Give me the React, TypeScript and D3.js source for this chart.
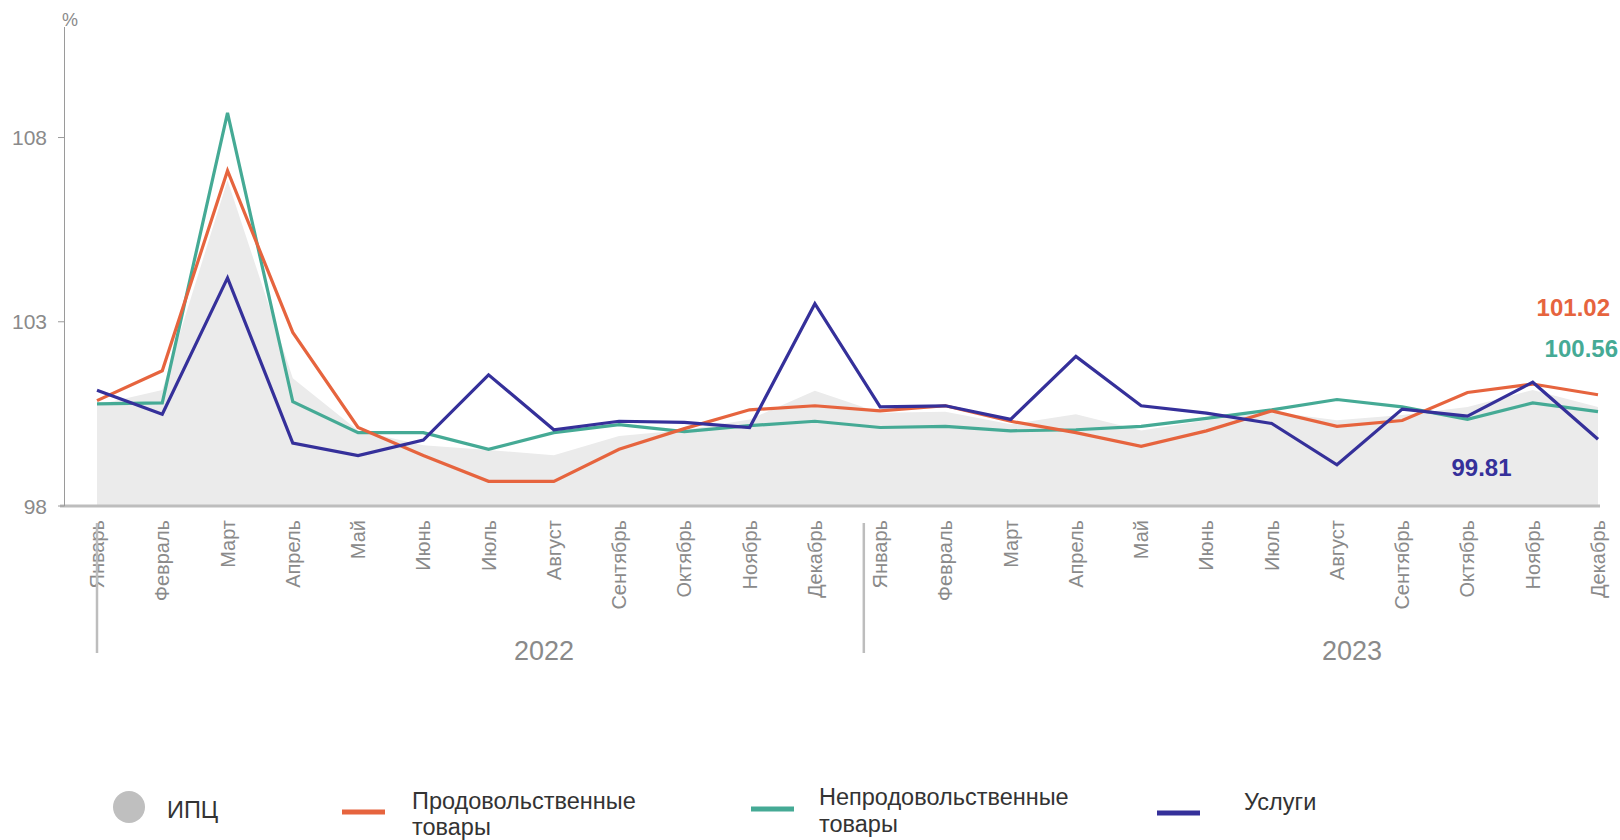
import React from "react";
import * as d3 from "d3";

const months = ["Январь","Февраль","Март","Апрель","Май","Июнь","Июль","Август","Сентябрь","Октябрь","Ноябрь","Декабрь",
  "Январь","Февраль","Март","Апрель","Май","Июнь","Июль","Август","Сентябрь","Октябрь","Ноябрь","Декабрь"];
const years = ["2022", "2023"];

const cpi = [100.74,101.15,106.84,101.47,100.05,99.65,99.52,99.38,99.90,100.06,100.35,101.13,
  100.53,100.56,100.22,100.49,100.05,100.33,100.56,100.33,100.47,100.69,101.15,100.69];
const food = [100.86,101.67,107.10,102.71,100.13,99.37,98.67,98.67,99.54,100.10,100.61,100.72,
  100.58,100.72,100.30,99.99,99.62,100.04,100.58,100.16,100.32,101.08,101.31,101.02];
const nonFood = [100.77,100.80,108.67,100.83,99.99,99.99,99.54,99.99,100.21,100.02,100.18,100.30,
  100.13,100.16,100.04,100.07,100.16,100.38,100.61,100.89,100.69,100.35,100.80,100.56];
const services = [101.14,100.49,104.19,99.71,99.37,99.79,101.56,100.07,100.30,100.27,100.13,103.49,
  100.69,100.72,100.35,102.06,100.72,100.52,100.24,99.12,100.63,100.44,101.36,99.81];
const yTicks = [98, 103, 108];

const C_FOOD = "#E6643E";
const C_NON = "#45AA95";
const C_SERV = "#35309A";
const C_CPI = "#EBEBEB";
const FONT = "'Liberation Sans', Arial, sans-serif";

export default function App() {
  const W = 1620, H = 840;
  const x = d3.scaleLinear().domain([0, 23]).range([97, 1598]);
  const y = d3.scaleLinear().domain([98, 111]).range([506, 27]);
  const idx = d3.range(24);
  const line = d3.line<number>().x((_, i) => x(i)).y((d) => y(d));
  const area = d3.area<number>().x((_, i) => x(i)).y0(y(98)).y1((d) => y(d));
  const step = x(1) - x(0);

  const series = [
    { data: nonFood, color: C_NON },
    { data: food, color: C_FOOD },
    { data: services, color: C_SERV },
  ];

  const last = 23;
  return (
    <svg width={W} height={H} style={{ display: "block", position: "absolute", left: 0, top: 0 }} fontFamily={FONT}>
      <rect width={W} height={H} fill="#fff" />
      <path d={area(cpi) || ""} fill={C_CPI} />
      <line x1={60} x2={1600} y1={y(98)} y2={y(98)} stroke="#BDBDBD" strokeWidth={3} />
      <line x1={64.5} x2={64.5} y1={y(111)} y2={y(98)} stroke="#9A9A9A" strokeWidth={1} />
      {yTicks.map((t) => (
        <g key={t}>
          <line x1={58} x2={64.5} y1={y(t)} y2={y(t)} stroke="#9A9A9A" />
          <text x={47} y={y(t)} textAnchor="end" dominantBaseline="central" fontSize={21} fill="#8A8A8A">{t}</text>
        </g>
      ))}
      <text x={62} y={26} fontSize={18} fill="#8A8A8A">%</text>
      {series.map((s, k) => (
        <path key={k} d={line(s.data) || ""} fill="none" stroke={s.color} strokeWidth={3.2} strokeLinejoin="miter" />
      ))}
      {idx.map((i) => (
        <text key={i} transform={`translate(${x(i)},520) rotate(-90)`} textAnchor="end" dominantBaseline="central"
          fontSize={20} fill="#8A8A8A">{months[i]}</text>
      ))}
      {[0, 11.75].map((p, k) => (
        <line key={k} x1={x(0) + p * step} x2={x(0) + p * step} y1={523} y2={653} stroke="#BDBDBD" strokeWidth={2.5} />
      ))}
      <text x={x(6.85)} y={660} textAnchor="middle" fontSize={27} fill="#8A8A8A">{years[0]}</text>
      <text x={x(19.23)} y={660} textAnchor="middle" fontSize={27} fill="#8A8A8A">{years[1]}</text>
      <text x={x(last) + 12} y={y(food[last]) - 79} textAnchor="end" fontSize={24} fontWeight="bold" fill={C_FOOD}>
        {food[last].toFixed(2)}
      </text>
      <text x={x(last) + 20} y={y(nonFood[last]) - 55} textAnchor="end" fontSize={24} fontWeight="bold" fill={C_NON}>
        {nonFood[last].toFixed(2)}
      </text>
      <text x={x(21) - 16} y={y(services[last]) + 37} fontSize={24} fontWeight="bold" fill={C_SERV}>
        {services[last].toFixed(2)}
      </text>
      <g fontSize={23.5} fill="#333">
        <circle cx={129} cy={807} r={16} fill="#BFBFBF" />
        <text x={167} y={818}>ИПЦ</text>
        <line x1={342} x2={385} y1={812} y2={812} stroke={C_FOOD} strokeWidth={5} />
        <text x={412} y={809}>Продовольственные</text>
        <text x={412} y={835}>товары</text>
        <line x1={751} x2={794} y1={809} y2={809} stroke={C_NON} strokeWidth={5} />
        <text x={819} y={805}>Непродовольственные</text>
        <text x={819} y={832}>товары</text>
        <line x1={1157} x2={1200} y1={813} y2={813} stroke={C_SERV} strokeWidth={5} />
        <text x={1244} y={810}>Услуги</text>
      </g>
    </svg>
  );
}
